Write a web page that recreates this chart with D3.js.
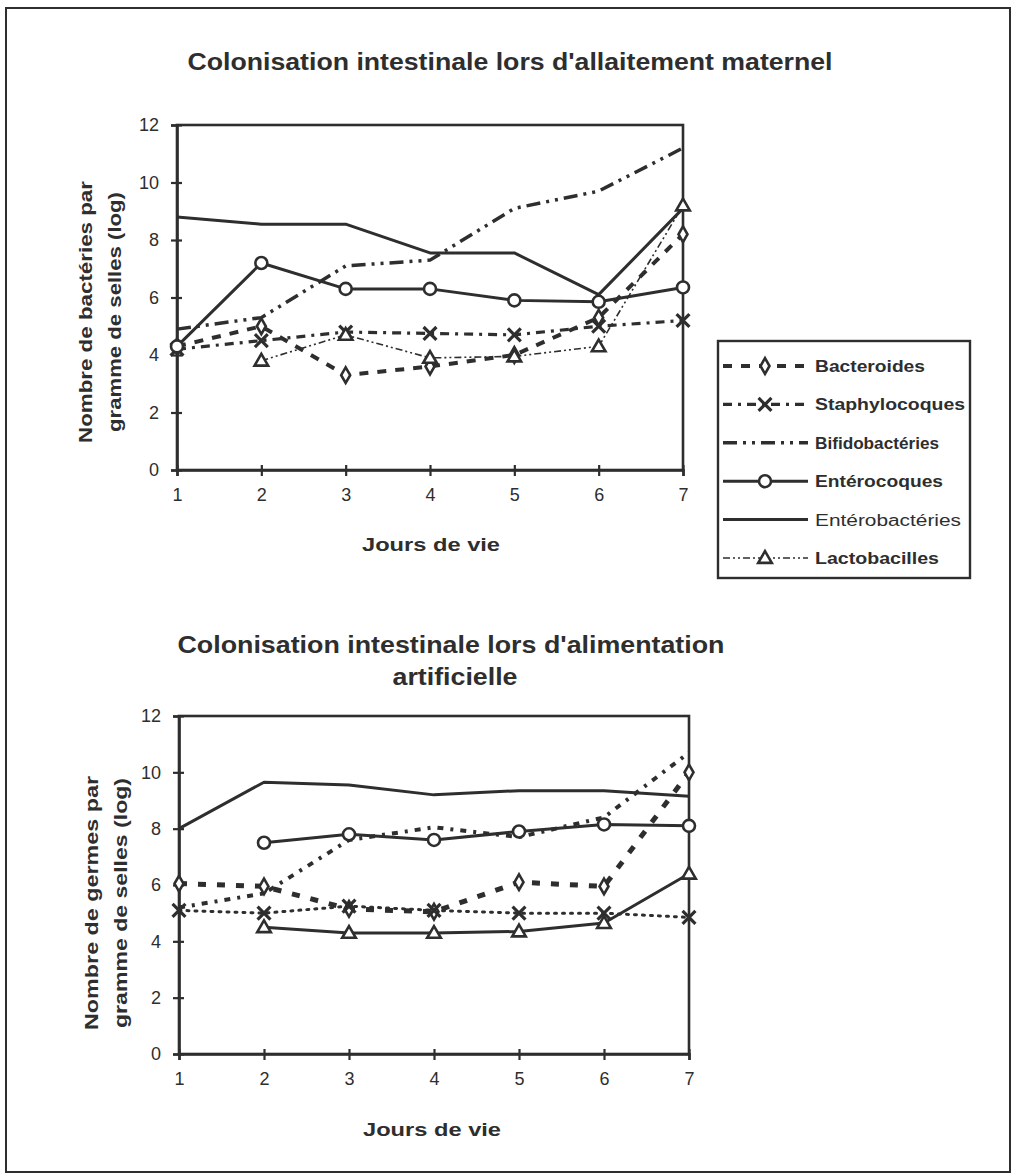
<!DOCTYPE html>
<html>
<head>
<meta charset="utf-8">
<script src="https://cdn.jsdelivr.net/npm/d3@7"></script>
<style>
  html, body { margin: 0; padding: 0; background: #fff; }
  svg { display: block; }
  text { font-family: "Liberation Sans", Arial, sans-serif; fill: #2e2e2e; }
  .narrow { font-family: "Liberation Sans Narrow", "Liberation Sans", Arial, sans-serif; font-weight: bold; }
</style>
</head>
<body>
<svg id="fig" width="1016" height="1176"></svg>
<script>
// Days of life (x axis)
const days = [1, 2, 3, 4, 5, 6, 7];
const yTicks = [0, 2, 4, 6, 8, 10, 12];

const seriesNames = ["Bacteroides", "Staphylocoques", "Bifidobactéries", "Entérocoques", "Entérobactéries", "Lactobacilles"];

// Breast-feeding (log germs per gram of stool)
const bacteroidesAllait   = [4.3, 5.0, 3.3, 3.6, 4.0, 5.3, 8.2];
const staphAllait         = [4.2, 4.5, 4.8, 4.75, 4.7, 5.0, 5.2];
const bifidoAllait        = [4.9, 5.3, 7.1, 7.3, 9.1, 9.7, 11.2];
const enterocoquesAllait  = [4.3, 7.2, 6.3, 6.3, 5.9, 5.85, 6.35];
const enterobactAllait    = [8.8, 8.55, 8.55, 7.55, 7.55, 6.1, 9.1];
const lactoAllait         = [null, 3.8, 4.7, 3.9, 3.95, 4.3, 9.2];

// Formula feeding
const bacteroidesArtif    = [6.05, 5.95, 5.15, 5.05, 6.1, 5.95, 10.0];
const staphArtif          = [5.1, 5.0, 5.25, 5.1, 5.0, 5.0, 4.85];
const bifidoArtif         = [5.2, 5.7, 7.6, 8.05, 7.7, 8.4, 10.7];
const enterocoquesArtif   = [null, 7.5, 7.8, 7.6, 7.9, 8.15, 8.1];
const enterobactArtif     = [8.0, 9.65, 9.55, 9.2, 9.35, 9.35, 9.15];
const lactoArtif          = [null, 4.5, 4.3, 4.3, 4.35, 4.65, 6.4];

const INK = "#2e2e2e";
const svg = d3.select("#fig");

// outer frame
svg.append("rect").attr("x", 6).attr("y", 8).attr("width", 1004).attr("height", 1164)
  .attr("fill", "none").attr("stroke", INK).attr("stroke-width", 2);

// line / marker styles per series
const stylesTop = {
  "Bacteroides":     { w: 4,   dash: "9,9",                marker: "diamond" },
  "Staphylocoques":  { w: 3.2, dash: "9,6,3,6",            marker: "x" },
  "Bifidobactéries": { w: 3.5, dash: "14,6,3,6,3,6",       marker: null },
  "Entérocoques":    { w: 3,   dash: null,                 marker: "circle" },
  "Entérobactéries": { w: 3,   dash: null,                 marker: null },
  "Lactobacilles":   { w: 1.6, dash: "7,3,2,3,2,3",        marker: "triangle" }
};
const stylesBottom = {
  "Bacteroides":     { w: 5,   dash: "8,11",               marker: "diamond" },
  "Staphylocoques":  { w: 3,   dash: "2,6",                marker: "x" },
  "Bifidobactéries": { w: 4,   dash: "6,7,3,7",            marker: null },
  "Entérocoques":    { w: 3,   dash: null,                 marker: "circle" },
  "Entérobactéries": { w: 3,   dash: null,                 marker: null },
  "Lactobacilles":   { w: 3,   dash: null,                 marker: "triangle" }
};
// legend label widths
const legendTextWidth = {
  "Bacteroides": 110, "Staphylocoques": 150, "Bifidobactéries": 124,
  "Entérocoques": 128, "Entérobactéries": 146, "Lactobacilles": 124
};

function drawMarker(g, type, x, y) {
  if (!type) return;
  if (type === "circle") {
    g.append("circle").attr("cx", x).attr("cy", y).attr("r", 6)
      .attr("fill", "#fff").attr("stroke", INK).attr("stroke-width", 2.6);
  } else if (type === "diamond") {
    g.append("path").attr("transform", `translate(${x},${y})`)
      .attr("d", d3.symbol(d3.symbolDiamond, 70)())
      .attr("fill", "#fff").attr("stroke", INK).attr("stroke-width", 2.6);
  } else if (type === "triangle") {
    g.append("path").attr("transform", `translate(${x},${y + 1})`)
      .attr("d", d3.symbol(d3.symbolTriangle, 80)())
      .attr("fill", "#fff").attr("stroke", INK).attr("stroke-width", 2.6);
  } else if (type === "x") {
    g.append("path").attr("transform", `translate(${x},${y})`)
      .attr("d", d3.symbol(d3.symbolTimes, 110)())
      .attr("fill", "none").attr("stroke", INK).attr("stroke-width", 3.2);
  }
}

function boldText(g, cls, size, len) {
  const t = g.append("text").attr("class", "narrow").attr("font-size", size);
  if (len) t.attr("textLength", len).attr("lengthAdjust", "spacingAndGlyphs");
  return t;
}

function drawChart(cfg) {
  const x = d3.scaleLinear().domain([1, 7]).range([cfg.x0, cfg.x1]);
  const y = d3.scaleLinear().domain([0, 12]).range([cfg.y0, cfg.y1]);
  const g = svg.append("g");

  // plot box
  g.append("rect").attr("x", cfg.x0).attr("y", cfg.y1)
    .attr("width", cfg.x1 - cfg.x0).attr("height", cfg.y0 - cfg.y1)
    .attr("fill", "none").attr("stroke", INK).attr("stroke-width", 2.6);

  const yAxis = g.append("g").attr("transform", `translate(${cfg.x0},0)`)
    .call(d3.axisLeft(y).tickValues(yTicks).tickSize(6).tickPadding(12));
  yAxis.selectAll(".tick line").attr("x1", 5);
  const xAxis = g.append("g").attr("transform", `translate(0,${cfg.y0})`)
    .call(d3.axisBottom(x).tickValues(days).tickFormat(d3.format("d")).tickSize(6).tickPadding(12));
  xAxis.selectAll(".tick line").attr("y1", -5);
  [yAxis, xAxis].forEach(a => {
    a.select(".domain").attr("stroke", INK).attr("stroke-width", 2.6);
    a.selectAll(".tick line").attr("stroke", INK).attr("stroke-width", 2.2);
    a.selectAll(".tick text").attr("font-size", 18).attr("fill", INK)
      .style("font-family", "'Liberation Sans', Arial, sans-serif");
  });

  // series lines
  const line = d3.line().defined(d => d.v != null).x(d => x(d.day)).y(d => y(d.v));
  cfg.series.forEach((vals, i) => {
    const st = cfg.styles[seriesNames[i]];
    const pts = days.map((d, j) => ({ day: d, v: vals[j] }));
    g.append("path").datum(pts).attr("d", line)
      .attr("fill", "none").attr("stroke", INK).attr("stroke-width", st.w)
      .attr("stroke-dasharray", st.dash).attr("stroke-linejoin", "round")
      .attr("stroke-linecap", st.dash && st.dash.startsWith("2,") ? "round" : "butt");
  });
  // markers
  cfg.series.forEach((vals, i) => {
    const st = cfg.styles[seriesNames[i]];
    days.forEach((d, j) => {
      if (vals[j] != null) drawMarker(g, st.marker, x(d), y(vals[j]));
    });
  });

  // titles
  cfg.title.forEach(t => {
    boldText(g, "narrow", 23, t.len).attr("x", t.cx).attr("y", t.y)
      .attr("text-anchor", "middle").text(t.text);
  });
  boldText(g, "narrow", 18, 138).attr("x", cfg.xTitle.cx).attr("y", cfg.xTitle.y)
    .attr("text-anchor", "middle").text("Jours de vie");
  cfg.yTitle.forEach(t => {
    boldText(g, "narrow", 19, t.len)
      .attr("transform", `translate(${t.x},${cfg.yTitleCy}) rotate(-90)`)
      .attr("text-anchor", "middle").text(t.text);
  });
}

drawChart({
  x0: 177, x1: 683, y0: 470, y1: 125,
  series: [bacteroidesAllait, staphAllait, bifidoAllait, enterocoquesAllait, enterobactAllait, lactoAllait],
  styles: stylesTop,
  title: [{ text: "Colonisation intestinale lors d'allaitement maternel", cx: 510, y: 70, len: 645 }],
  xTitle: { cx: 431, y: 551 },
  yTitle: [{ x: 92, text: "Nombre de bactéries par", len: 262 }, { x: 121, text: "gramme de selles (log)", len: 240 }],
  yTitleCy: 312
});

drawChart({
  x0: 179, x1: 689, y0: 1054, y1: 716,
  series: [bacteroidesArtif, staphArtif, bifidoArtif, enterocoquesArtif, enterobactArtif, lactoArtif],
  styles: stylesBottom,
  title: [
    { text: "Colonisation intestinale lors d'alimentation", cx: 451, y: 653, len: 547 },
    { text: "artificielle", cx: 455, y: 685, len: 125 }
  ],
  xTitle: { cx: 432, y: 1136 },
  yTitle: [{ x: 98, text: "Nombre de germes par", len: 254 }, { x: 127, text: "gramme de selles (log)", len: 250 }],
  yTitleCy: 903
});

// legend (shared by both charts)
const legend = svg.append("g");
legend.append("rect").attr("x", 718).attr("y", 341).attr("width", 252).attr("height", 237)
  .attr("fill", "#fff").attr("stroke", INK).attr("stroke-width", 2.4);
const rowY = d3.scalePoint().domain(seriesNames).range([366, 558]);
seriesNames.forEach(name => {
  const st = stylesTop[name];
  const yy = rowY(name);
  legend.append("line").attr("x1", 723).attr("x2", 808).attr("y1", yy).attr("y2", yy)
    .attr("stroke", INK).attr("stroke-width", st.w).attr("stroke-dasharray", st.dash);
  drawMarker(legend, st.marker, 765, yy);
  const t = legend.append("text").attr("x", 815).attr("y", yy + 6)
    .attr("font-size", 17).attr("textLength", legendTextWidth[name])
    .attr("lengthAdjust", "spacingAndGlyphs").text(name);
  if (name === "Entérobactéries") t.attr("font-size", 16);
  else t.attr("class", "narrow");
});
</script>
</body>
</html>
